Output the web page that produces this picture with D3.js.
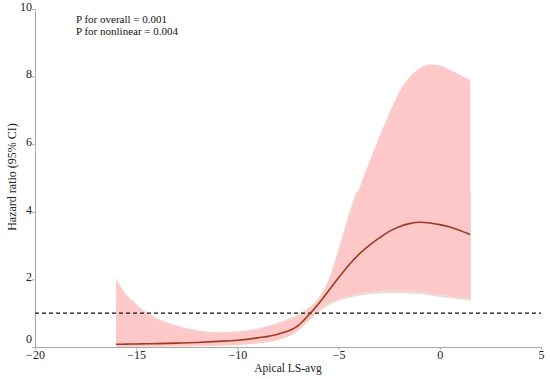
<!DOCTYPE html>
<html>
  <head>
    <meta charset="utf-8">
    <script src="https://d3js.org/d3.v7.min.js"></script>
    <style>
      body { margin: 0; background: #fff; }
      text { font-family: "Liberation Serif", "DejaVu Serif", serif; }
    </style>
  </head>
  <body>
    <script type="text/javascript">
      "use strict";

      // values
      var xs    = [-16, -15.5, -15, -14.5, -14, -13, -12, -11, -10, -9, -8, -7, -6.5, -6, -5.5, -5, -4.5, -4, -3.5, -3, -2.5, -2, -1.5, -1, -0.5, 0, 0.5, 1, 1.5];
      var hr    = [0.08, 0.085, 0.09, 0.095, 0.1, 0.115, 0.135, 0.165, 0.2, 0.27, 0.38, 0.63, 0.93, 1.27, 1.66, 2.05, 2.42, 2.74, 3.0, 3.22, 3.42, 3.56, 3.65, 3.69, 3.67, 3.62, 3.55, 3.45, 3.33];
      var lower = [0.01, 0.012, 0.014, 0.016, 0.018, 0.022, 0.03, 0.045, 0.07, 0.12, 0.22, 0.5, 0.8, 1.08, 1.3, 1.43, 1.52, 1.59, 1.63, 1.66, 1.67, 1.67, 1.66, 1.64, 1.6, 1.56, 1.52, 1.48, 1.44];
      var upper = [1.96, 1.5, 1.22, 0.98, 0.82, 0.6, 0.47, 0.41, 0.43, 0.52, 0.68, 0.92, 1.1, 1.38, 1.92, 2.8, 3.8, 4.65, 5.45, 6.2, 6.9, 7.55, 7.98, 8.24, 8.36, 8.33, 8.2, 8.05, 7.9];
      var xTicks = [-20, -15, -10, -5, 0, 5];
      var yTicks = [0, 2, 4, 6, 8, 10];
      var refLine = 1;
      var notes = ["P for overall = 0.001", "P for nonlinear = 0.004"];

      var W = 550, H = 379;
      var x = d3.scaleLinear().domain([-20, 5]).range([35, 541]);
      var y = d3.scaleLinear().domain([0, 10]).range([347, 9]);

      var rows = xs.map(function (v, i) {
        return { x: v, hr: hr[i], lo: lower[i], hi: upper[i] };
      });

      var svg = d3.select("body").append("svg")
        .attr("width", W).attr("height", H);

      // clip for the faint tan under-layer
      var cp = svg.append("defs").append("clipPath").attr("id", "tanclip");
      cp.append("rect").attr("x", x(-16)).attr("y", y(2.05))
        .attr("width", x(-6.6) - x(-16)).attr("height", y(0) - y(2.05));
      cp.append("rect").attr("x", x(-6.6)).attr("y", y(4.6))
        .attr("width", x(1.55) - x(-6.6)).attr("height", y(0) - y(4.6));

      var tanArea = d3.area().curve(d3.curveMonotoneX)
        .x(function (d) { return x(d.x); })
        .y0(function (d) { return y(Math.max(0, d.lo * 0.96 - 0.01)); })
        .y1(function (d) { return y(d.hi * 1.035 + 0.02); });

      var tanRows = rows.slice();
      tanRows.push({ x: 1.55, hr: 3.3, lo: 1.44, hi: 7.88 });
      svg.append("path").datum(tanRows)
        .attr("d", tanArea)
        .attr("clip-path", "url(#tanclip)")
        .attr("fill", "#ecdcd2");

      var band = d3.area().curve(d3.curveMonotoneX)
        .x(function (d) { return x(d.x); })
        .y0(function (d) { return y(d.lo); })
        .y1(function (d) { return y(d.hi); });

      svg.append("path").datum(rows)
        .attr("d", band)
        .attr("fill", "#ffc8c8");

      // axes
      var gx = svg.append("g").attr("transform", "translate(0," + y(0) + ")")
        .call(d3.axisBottom(x).tickValues(xTicks).tickSize(3).tickSizeOuter(0)
          .tickFormat(function (d) { return d < 0 ? "\u2212" + Math.abs(d) : d; }));
      var gy = svg.append("g").attr("transform", "translate(" + x(-20) + ",0)")
        .call(d3.axisLeft(y).tickValues(yTicks).tickSize(3).tickSizeOuter(0));

      [gx, gy].forEach(function (g) {
        g.select(".domain").attr("stroke", "#aaa");
        g.selectAll(".tick line").attr("stroke", "#aaa");
        g.selectAll(".tick text")
          .attr("fill", "#222")
          .style("font-family", "'Liberation Serif', serif")
          .style("font-size", "12px");
      });
      gx.selectAll(".tick text").attr("y", 3).attr("dy", "0.71em");
      gy.selectAll(".tick text").attr("x", -3)
        .attr("dy", function (d) { return d === 0 ? "-0.4em" : "0.1em"; });

      // reference line
      svg.append("line")
        .attr("x1", x(-20)).attr("x2", x(5))
        .attr("y1", y(refLine)).attr("y2", y(refLine))
        .attr("stroke", "#111").attr("stroke-width", 1.3)
        .attr("stroke-dasharray", "4,3");

      // fitted curve
      var line = d3.line().curve(d3.curveMonotoneX)
        .x(function (d) { return x(d.x); })
        .y(function (d) { return y(d.hr); });

      svg.append("path").datum(rows)
        .attr("d", line)
        .attr("fill", "none")
        .attr("stroke", "#9e3a22")
        .attr("stroke-width", 1.6);

      // labels
      svg.append("text")
        .attr("x", 288).attr("y", 372)
        .attr("text-anchor", "middle")
        .style("font-size", "11.5px")
        .attr("fill", "#222")
        .text("Apical LS-avg");

      svg.append("text")
        .attr("transform", "translate(16,177) rotate(-90)")
        .attr("text-anchor", "middle")
        .style("font-size", "12px")
        .attr("fill", "#222")
        .text("Hazard ratio (95% CI)");

      svg.selectAll(".note").data(notes).enter().append("text")
        .attr("class", "note")
        .attr("x", 76)
        .attr("y", function (d, i) { return 23 + i * 11.5; })
        .style("font-size", "11px")
        .attr("fill", "#111")
        .text(function (d) { return d; });
    </script>
  </body>
</html>
